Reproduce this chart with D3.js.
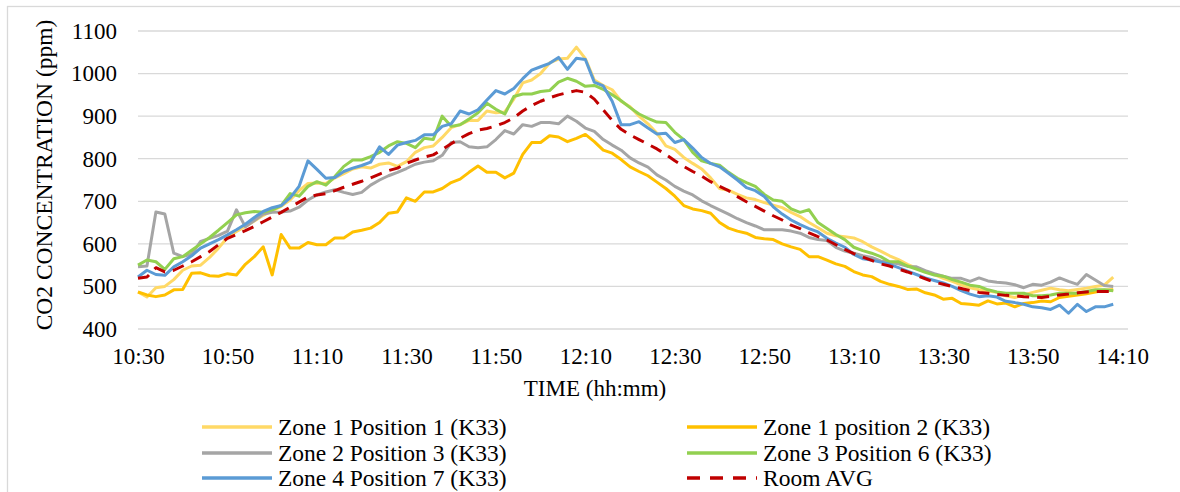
<!DOCTYPE html>
<html>
<head>
  <script src="https://d3js.org/d3.v7.min.js"></script>
  <style>
    body { margin: 0; background: white; }
    text { font-family: "Liberation Serif", "Times New Roman", serif; fill: #000; }
  </style>
</head>
<body>
  <script>
    // minutes after 10:30, sampled every 2 minutes
    const minutes = d3.range(0, 220, 2)
    const tickMinutes = d3.range(0, 221, 20)
    const yTicks = [400, 500, 600, 700, 800, 900, 1000, 1100]

    const seriesNames = [
      'Zone 1 Position 1 (K33)', 'Zone 1 position 2 (K33)', 'Zone 2 Position 3 (K33)',
      'Zone 3 Position 6 (K33)', 'Zone 4 Position 7 (K33)', 'Room AVG'
    ]
    const seriesColors = ['#FFD966', '#FFC000', '#A5A5A5', '#92D050', '#5B9BD5', '#C00000']

    const zone1pos1 = [
      487, 475, 497, 500, 516, 538, 548, 550, 568, 590,
      615, 629, 641, 654, 667, 678, 688, 703, 725, 742,
      743, 742, 755, 765, 776, 781, 778, 787, 790, 782,
      793, 815, 826, 830, 850, 873, 880, 890, 890, 912,
      908, 910, 940, 978, 985, 1000, 1025, 1034, 1036, 1062,
      1035, 985, 972, 962, 935, 922, 900, 882, 860, 830,
      822, 803, 789, 776, 755, 730, 726, 716, 708, 704,
      697, 691, 685, 674, 664, 650, 638, 625, 619, 617,
      614, 605, 593, 583, 572, 563, 552, 543, 536, 528,
      519, 512, 504, 497, 492, 489, 486, 478, 474, 480,
      486, 491, 496, 492, 490, 493, 496, 500, 503, 522
    ]
    const zone1pos2 = [
      487, 480, 476, 480, 492, 493, 531, 532, 525, 524,
      530, 527, 552, 570, 593, 527, 622, 590, 590, 603,
      598, 598, 614, 614, 628, 632, 637, 650, 672, 675,
      708, 700, 722, 722, 730, 744, 752, 768, 783, 768,
      768, 755, 766, 810, 838, 838, 854, 851, 840, 848,
      857, 840, 820, 813, 798, 781, 770, 760, 745, 730,
      712, 690, 682, 678, 672, 650, 637, 630, 625, 615,
      612, 610, 600, 593, 587, 570, 570, 562, 553, 547,
      535, 527, 523, 512, 505, 500, 493, 494, 485, 480,
      470, 472, 460, 458, 456, 466, 459, 461, 452, 460,
      462, 466, 464, 474, 477, 480, 483, 487, 491, 492
    ]
    const zone2pos3 = [
      546, 548, 675, 670, 578, 570, 576, 606, 613, 620,
      630, 680, 640, 655, 670, 674, 675, 677, 686, 703,
      715, 722, 727, 721, 716, 721, 738, 750, 760, 768,
      777, 787, 792, 795, 808, 838, 840, 828, 826, 828,
      845, 866, 858, 880, 876, 885, 885, 882, 900, 888,
      872, 864, 845, 832, 820, 802, 790, 780, 762, 750,
      735, 724, 715, 701, 690, 680, 670, 659, 650, 642,
      633, 633, 633, 630, 625, 615, 610, 608, 592, 583,
      578, 572, 568, 560, 556, 553, 547, 546, 537, 530,
      524, 519, 519, 512, 520, 513, 510, 508, 504, 497,
      505, 503, 510, 520, 512, 505, 528, 515, 502, 500
    ]
    const zone3pos6 = [
      550, 562, 558, 540, 565, 570, 585, 600, 615, 632,
      650, 668, 673, 676, 674, 680, 690, 718, 712, 735,
      746, 738, 758, 782, 797, 797, 805, 815, 830, 840,
      836, 826, 848, 845, 900, 876, 880, 893, 908, 930,
      916, 905, 946, 952, 952, 958, 960, 980, 989, 982,
      970, 972, 963, 950, 936, 920, 905, 895, 886, 885,
      862, 845, 815, 795, 789, 785, 768, 754, 744, 735,
      716, 703, 700, 682, 674, 680, 650, 636, 622, 610,
      592, 584, 578, 570, 558, 558, 548, 541, 533, 527,
      524, 516, 510, 503, 500, 492, 487, 484, 484, 484,
      478, 478, 480, 484, 484, 484, 488, 492, 492, 490
    ]
    const zone4pos7 = [
      522, 538, 528, 526, 546, 558, 572, 590, 600, 610,
      621, 633, 646, 662, 676, 685, 690, 708, 735, 795,
      775, 754, 756, 770, 778, 784, 792, 828, 810, 832,
      838, 843, 856, 856, 876, 882, 912, 905, 915, 938,
      960, 952, 965, 988, 1008, 1016, 1024, 1038, 1010, 1036,
      1033, 980, 971, 935, 880, 880, 887, 872, 858, 860,
      838, 845, 825, 803, 789, 781, 766, 750, 732, 725,
      711, 687, 670, 656, 645, 636, 628, 613, 602, 592,
      575, 565, 562, 557, 552, 544, 536, 528, 520, 514,
      508, 500, 490, 482, 476, 478, 475, 465, 462, 458,
      452, 450, 446, 456, 437, 458, 441, 452, 452, 458
    ]
    const roomAvg = [
      519, 522, 544, 534, 538, 548, 558, 570, 582, 598,
      613, 622, 631, 641, 652, 663, 674, 686, 698, 710,
      715, 718, 725, 733, 740, 747, 755, 764, 772, 778,
      789, 797, 804, 809, 822, 835, 848, 859, 867, 871,
      877, 885, 896, 912, 925, 935, 943, 950, 955, 960,
      956, 940, 915, 890, 869, 856, 845, 834, 823, 810,
      795, 782, 770, 759, 746, 735, 725, 711, 699, 688,
      677, 666, 656, 644, 636, 626, 617, 609, 598, 587,
      577, 569, 561, 553, 548, 541, 534, 526, 518, 510,
      505, 500, 495, 490, 486, 484, 481, 479, 478, 476,
      475, 474, 477, 480, 482, 485, 487, 488, 488, 488
    ]
    const seriesValues = [zone1pos1, zone1pos2, zone2pos3, zone3pos6, zone4pos7, roomAvg]

    const W = 1180, H = 492
    const svg = d3.select('body').append('svg')
      .attr('width', W).attr('height', H)

    svg.append('rect').attr('width', W).attr('height', H).attr('fill', 'white')
    // chart frame
    svg.append('rect')
      .attr('x', 7.5).attr('y', 6.5).attr('width', 1200).attr('height', 600)
      .attr('fill', 'none').attr('stroke', '#d9d9d9').attr('stroke-width', 1.3)

    const x = d3.scaleLinear().domain([0, 221.3]).range([138, 1128])
    const y = d3.scaleLinear().domain([400, 1100]).range([329, 31])

    function timeLabel(m) {
      const total = 10 * 60 + 30 + m
      return Math.floor(total / 60) + ':' + String(total % 60).padStart(2, '0')
    }

    // horizontal gridlines
    svg.append('g').selectAll('line').data(yTicks).join('line')
      .attr('x1', 138).attr('x2', 1128)
      .attr('y1', d => y(d)).attr('y2', d => y(d))
      .attr('stroke', '#d9d9d9').attr('stroke-width', 1.3)

    // y axis labels
    const yAxis = svg.append('g')
      .attr('transform', 'translate(124,0)')
      .call(d3.axisLeft(y).tickValues(yTicks).tickFormat(d3.format('d')).tickSize(0).tickPadding(7))
    yAxis.select('.domain').remove()
    yAxis.selectAll('text').attr('font-size', 23)
      .style('font-family', '"Liberation Serif", "Times New Roman", serif')

    // x axis labels
    const xAxis = svg.append('g')
      .attr('transform', 'translate(0,341)')
      .call(d3.axisBottom(x).tickValues(tickMinutes).tickFormat(timeLabel).tickSize(0).tickPadding(7))
    xAxis.select('.domain').remove()
    xAxis.selectAll('text').attr('font-size', 23)
      .style('font-family', '"Liberation Serif", "Times New Roman", serif')

    // axis titles
    svg.append('text')
      .attr('transform', 'translate(52,175) rotate(-90)')
      .attr('text-anchor', 'middle')
      .attr('font-size', 23.5)
      .text('CO2 CONCENTRATION (ppm)')
    svg.append('text')
      .attr('x', 595).attr('y', 396)
      .attr('text-anchor', 'middle')
      .attr('font-size', 23)
      .text('TIME (hh:mm)')

    // series lines
    const line = d3.line()
      .defined(d => d[1] != null)
      .x(d => x(d[0]))
      .y(d => y(d[1]))

    seriesValues.forEach((vals, i) => {
      const pts = minutes.map((m, j) => [m, vals[j]])
      svg.append('path')
        .attr('d', line(pts))
        .attr('fill', 'none')
        .attr('stroke', seriesColors[i])
        .attr('stroke-width', 3)
        .attr('stroke-linejoin', 'round')
        .attr('stroke-dasharray', i === 5 ? '12,8' : null)
    })

    // legend
    const legendCols = [202, 687]
    const legendRows = [427, 453, 478]
    seriesNames.forEach((name, i) => {
      const lx = legendCols[i % 2]
      const ly = legendRows[Math.floor(i / 2)]
      svg.append('line')
        .attr('x1', lx).attr('x2', lx + 70)
        .attr('y1', ly).attr('y2', ly)
        .attr('stroke', seriesColors[i])
        .attr('stroke-width', 3.5)
        .attr('stroke-dasharray', i === 5 ? '13,10' : null)
      svg.append('text')
        .attr('x', lx + 76).attr('y', ly + 7.5)
        .attr('font-size', 23.5)
        .text(name)
    })
  </script>
</body>
</html>
